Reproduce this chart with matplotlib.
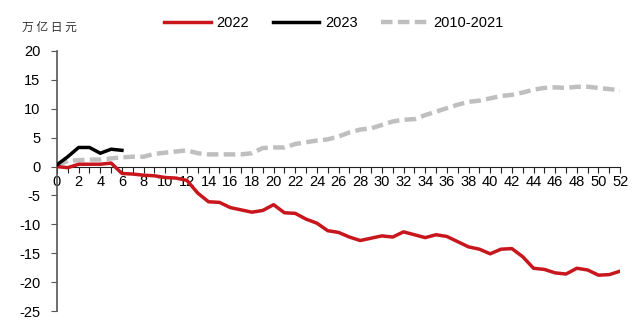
import matplotlib.pyplot as plt
import numpy as np

plt.rcParams['font.family'] = ['Liberation Sans', 'DejaVu Sans']
plt.rcParams['axes.unicode_minus'] = False

weeks = list(range(53))

# 2022, cumulative, 万亿日元
y2022 = [0.0, -0.2, 0.4, 0.4, 0.4, 0.6, -1.2, -1.3, -1.5, -1.6, -1.9, -2.0, -2.4,
         -4.6, -6.1, -6.2, -7.1, -7.5, -7.9, -7.6, -6.6, -8.0, -8.1, -9.1, -9.8,
         -11.1, -11.4, -12.2, -12.8, -12.4, -12.0, -12.2, -11.3, -11.8, -12.3,
         -11.8, -12.1, -13.0, -13.9, -14.3, -15.1, -14.3, -14.2, -15.6, -17.6,
         -17.8, -18.4, -18.6, -17.6, -17.9, -18.8, -18.7, -18.1]

weeks2023 = list(range(7))
y2023 = [0.3, 1.7, 3.3, 3.3, 2.3, 3.0, 2.8]

# 2010-2021 average
yavg = [0.2, 1.0, 1.1, 1.2, 1.2, 1.4, 1.6, 1.7, 1.7, 2.2, 2.4, 2.6, 2.8, 2.3,
        2.1, 2.1, 2.1, 2.1, 2.3, 3.2, 3.3, 3.3, 3.9, 4.2, 4.5, 4.7, 5.2, 5.9,
        6.4, 6.6, 7.2, 7.8, 8.1, 8.2, 8.9, 9.5, 10.1, 10.7, 11.2, 11.4, 11.8,
        12.2, 12.4, 12.8, 13.3, 13.6, 13.7, 13.6, 13.8, 13.8, 13.6, 13.4, 13.2]

fig = plt.figure(figsize=(6.4, 3.33), dpi=100)
ax = fig.add_axes([0.089, 0.066, 0.88, 0.781])

ax.plot(weeks, yavg, color='#BFBFBF', lw=3.2, dashes=(2.6, 1.2),
        solid_capstyle='butt', label='2010-2021', zorder=2)
ax.plot(weeks, y2022, color='#C8161D', lw=2.5, label='2022', zorder=3)
ax.plot(weeks2023, y2023, color='black', lw=2.5, label='2023', zorder=4)

ax.set_xlim(0, 52)
ax.set_ylim(-25, 20)
ax.set_yticks(np.arange(-25, 21, 5))
ax.set_xticks(range(0, 53, 2))
ax.set_xticks(range(0, 53), minor=True)

for s in ['top', 'right']:
    ax.spines[s].set_visible(False)
ax.spines['bottom'].set_position(('data', 0))
ax.spines['bottom'].set_color('#222222')
ax.spines['left'].set_color('#555555')
ax.spines['left'].set_linewidth(1.2)

ax.tick_params(axis='x', which='both', direction='out', length=4, width=0.8,
               color='#222222', labelsize=10.5, pad=2)
ax.tick_params(axis='y', direction='out', length=4, width=0.8, color='#555555',
               labelsize=10.5, pad=8)

fig.text(0.035, 0.918, '万 亿 日 元', fontsize=8.5, color='#333333',
         family=['Noto Sans CJK SC', 'DejaVu Sans'], va='center')

h, l = ax.get_legend_handles_labels()
order = [1, 2, 0]
fig.legend([h[i] for i in order], [l[i] for i in order], loc='center',
           bbox_to_anchor=(0.522, 0.932), ncol=3, frameon=False, fontsize=10.5,
           handlelength=3.2, columnspacing=1.6, handletextpad=0.4)

plt.savefig('out.png', dpi=100)
